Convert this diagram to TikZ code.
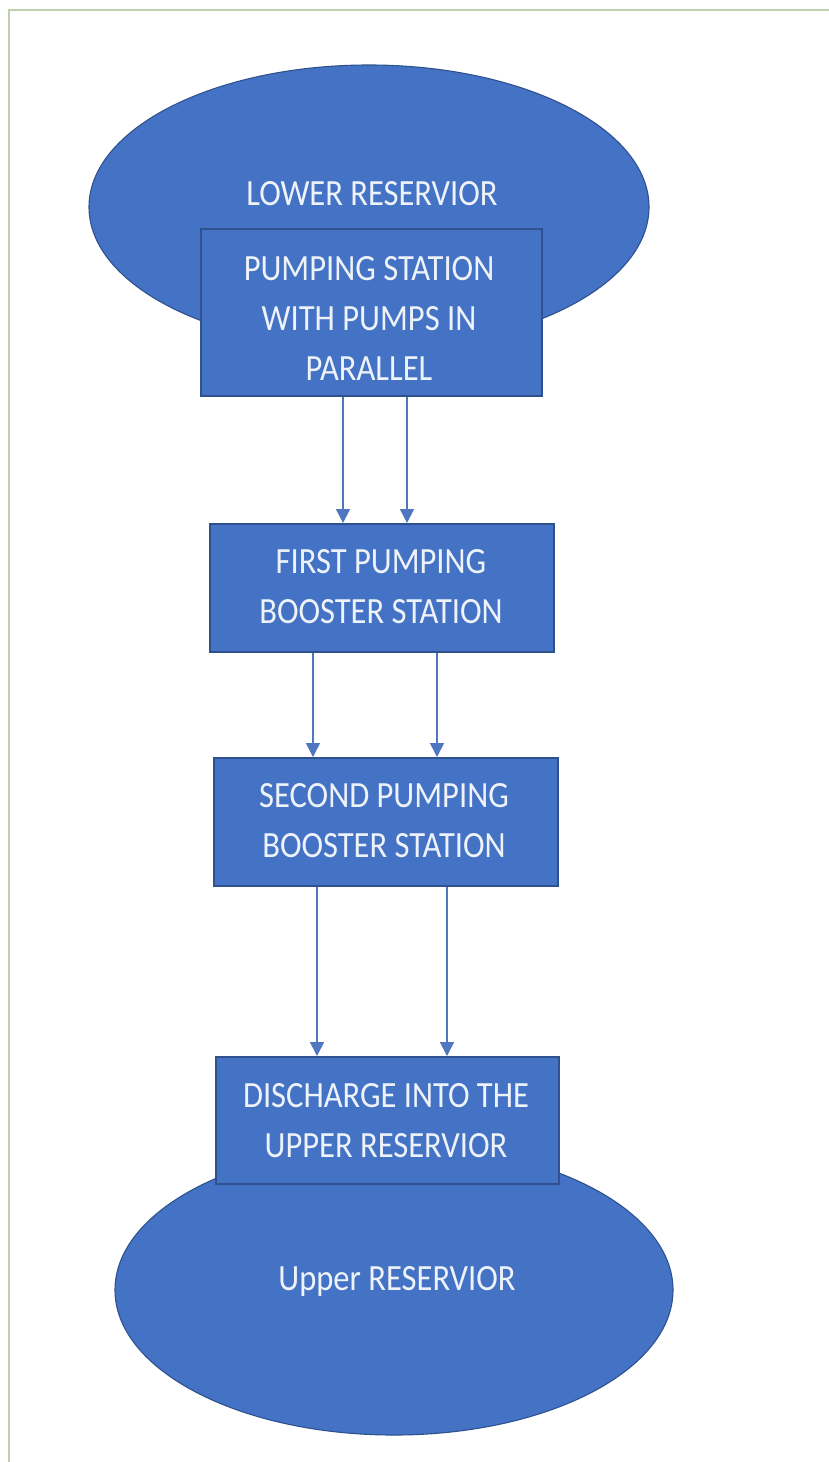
\documentclass[tikz,border=0pt]{standalone}
\usepackage{fontspec}
\setmainfont{Carlito}
\newfontfamily\condfont[FakeStretch=0.88]{Carlito}
\usetikzlibrary{arrows.meta,shapes.geometric}
\definecolor{fillblue}{HTML}{4472C4}
\definecolor{edgeblue}{HTML}{2F528F}
\definecolor{arrowblue}{HTML}{4F76C0}
\definecolor{frame}{HTML}{BFD0AE}
\definecolor{txt}{HTML}{EEF3FA}
\tikzset{
  res/.style={ellipse, fill=fillblue, draw=edgeblue, line width=1.1pt, inner sep=0pt},
  box/.style={rectangle, fill=fillblue, draw=edgeblue, line width=1.8pt, anchor=north west, inner sep=0pt},
  lbl/.style={text=txt, font=\condfont\fontsize{37}{50}\selectfont, align=center, inner sep=0pt},
  flow/.style={draw=arrowblue, line width=1.6pt, -{Triangle[width=14pt,length=14pt]}}
}
\begin{document}
\begin{tikzpicture}[x=1pt,y=-1pt]
\useasboundingbox (0,0) rectangle (829,1462);
\fill[white] (0,0) rectangle (829,1462);
\draw[frame, line width=2pt] (9,1470) -- (9,10) -- (840,10);
% reservoirs
\node[res, minimum width=560pt, minimum height=284pt] (lowres) at (369,207) {};
\node[res, minimum width=558pt, minimum height=290pt] (upres) at (394,1290) {};
% boxes
\node[box, minimum width=341pt, minimum height=167pt] (b1) at (200,228) {};
\node[box, minimum width=344pt, minimum height=128pt] (b2) at (209,523) {};
\node[box, minimum width=344pt, minimum height=128pt] (b3) at (213,757) {};
\node[box, minimum width=343pt, minimum height=127pt] (b4) at (215,1056) {};
% labels
\node[lbl, anchor=base] (lower) at (372,205) {LOWER RESERVIOR};
\node[lbl, anchor=base] (upper) at (397,1290) {Upper RESERVIOR};
\node[lbl] (t1) at (369,318.5) {PUMPING STATION\\WITH PUMPS IN\\PARALLEL};
\node[lbl] (t2) at (381,587) {FIRST PUMPING\\BOOSTER STATION};
\node[lbl] (t3) at (384,821) {SECOND PUMPING\\BOOSTER STATION};
\node[lbl] (t4) at (386,1121) {DISCHARGE INTO THE\\UPPER RESERVIOR};
% arrows
\draw[flow] (b1.south -| 343,0) -- (b2.north -| 343,0);
\draw[flow] (b1.south -| 407,0) -- (b2.north -| 407,0);
\draw[flow] (b2.south -| 313,0) -- (b3.north -| 313,0);
\draw[flow] (b2.south -| 437,0) -- (b3.north -| 437,0);
\draw[flow] (b3.south -| 317,0) -- (b4.north -| 317,0);
\draw[flow] (b3.south -| 447,0) -- (b4.north -| 447,0);
\end{tikzpicture}
\end{document}
